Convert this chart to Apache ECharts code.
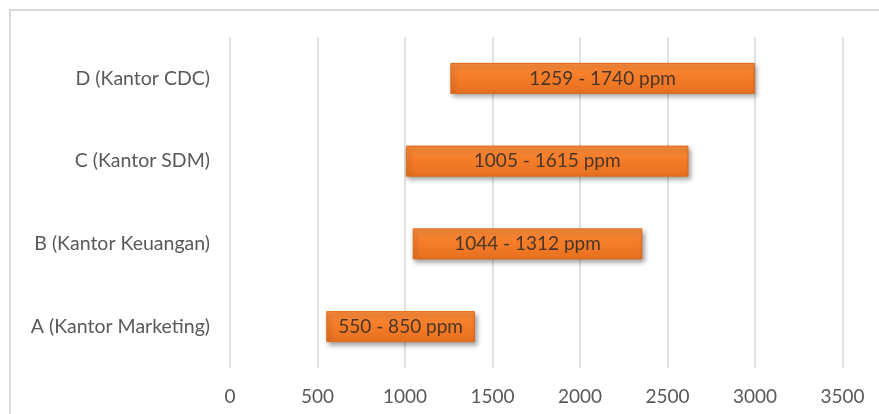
<!DOCTYPE html>
<html>
<head>
<meta charset="utf-8">
<script src="https://cdn.jsdelivr.net/npm/echarts@6/dist/echarts.min.js"></script>
<style>
html,body{margin:0;padding:0;background:#fff;}
#chart{width:879px;height:414px;}
</style>
</head>
<body>
<div id="chart"></div>
<script>
var categories = ['A (Kantor Marketing)', 'B (Kantor Keuangan)', 'C (Kantor SDM)', 'D (Kantor CDC)'];
var baseValues = [550, 1044, 1005, 1259];
var lengthValues = [850, 1312, 1615, 1740];
var xTicks = [0, 500, 1000, 1500, 2000, 2500, 3000, 3500];

var chart = echarts.init(document.getElementById('chart'));
var font = 'Lato, "Open Sans", sans-serif';
chart.setOption({
  animation: false,
  graphic: [{
    type: 'rect',
    shape: {x: 10, y: 10, width: 900, height: 420},
    style: {fill: 'none', stroke: '#d9d9d9', lineWidth: 2},
    silent: true
  }],
  grid: {left: 230, right: 36.5, top: 37, bottom: 46, containLabel: false},
  xAxis: {
    type: 'value',
    min: xTicks[0],
    max: xTicks[xTicks.length - 1],
    interval: 500,
    axisLine: {show: false},
    axisTick: {show: false},
    splitLine: {show: true, lineStyle: {color: '#d9d9d9', width: 1.5}},
    axisLabel: {color: '#595959', fontSize: 19, fontFamily: font, margin: 19,
      formatter: function (v) { return String(v); }}
  },
  yAxis: {
    type: 'category',
    data: categories,
    axisLine: {show: false},
    axisTick: {show: false},
    axisLabel: {color: '#595959', fontSize: 19.5, fontFamily: font, margin: 20}
  },
  series: [{
    type: 'bar',
    stack: 'r',
    data: baseValues,
    barWidth: '37.5%',
    itemStyle: {color: 'transparent'},
    silent: true
  }, {
    type: 'bar',
    stack: 'r',
    data: lengthValues,
    barWidth: '37.5%',
    itemStyle: {
      color: new echarts.graphic.LinearGradient(0, 0, 0, 1, [
        {offset: 0, color: '#f98c3c'},
        {offset: 0.5, color: '#f47b28'},
        {offset: 1, color: '#e5701f'}
      ]),
      borderColor: '#e06a1a',
      borderWidth: 1,
      shadowBlur: 5,
      shadowOffsetX: 2,
      shadowOffsetY: 3,
      shadowColor: 'rgba(0,0,0,0.4)'
    },
    label: {
      show: true,
      position: 'inside',
      color: '#4a3628',
      fontSize: 19,
      fontFamily: font,
      formatter: function (p) {
        return baseValues[p.dataIndex] + ' - ' + lengthValues[p.dataIndex] + ' ppm';
      }
    }
  }]
});
</script>
</body>
</html>
